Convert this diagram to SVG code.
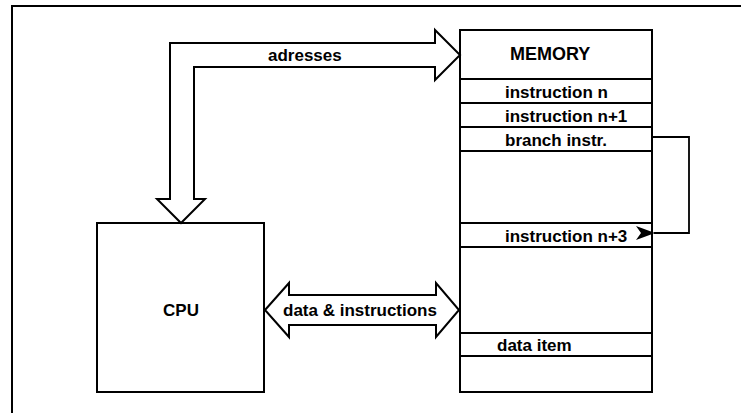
<svg xmlns="http://www.w3.org/2000/svg" width="741" height="413" viewBox="0 0 741 413">
  <style>
    .box { fill: #fff; stroke: #000; stroke-width: 2; }
    .rule { stroke: #000; stroke-width: 2; fill: none; }
    .bus { fill: #fff; stroke: #000; stroke-width: 2; stroke-linejoin: miter; }
    .wire { fill: none; stroke: #000; stroke-width: 1.8; }
    .lbl { font-family: "Liberation Sans", Arial, sans-serif; font-size: 17px; font-weight: bold; fill: #000; }
    .big { font-size: 18px; }
    .mid { text-anchor: middle; }
  </style>
  <defs>
    <marker id="barb" viewBox="0 0 20 16" refX="1" refY="8" markerWidth="20" markerHeight="16" markerUnits="userSpaceOnUse" orient="auto-start-reverse">
      <path d="M0,8 L19,1 L14,8 L19,15 Z" fill="#000"/>
    </marker>
  </defs>

  <rect width="741" height="413" fill="#fff"/>

  <!-- outer frame: top and left edges -->
  <g id="frame">
    <path class="rule" d="M12,413 V6 H741"/>
  </g>

  <!-- CPU -->
  <g id="cpu">
    <rect class="box" x="97" y="223" width="167" height="169"/>
    <text class="lbl mid" x="181" y="316">CPU</text>
  </g>

  <!-- Memory column -->
  <g id="memory">
    <rect class="box" x="460" y="30" width="192" height="362"/>
    <path class="rule" d="M460,79 H652 M460,103 H652 M460,127 H652 M460,151 H652 M460,223 H652 M460,247 H652 M460,333 H652 M460,356 H652"/>
    <text class="lbl big" x="510" y="60">MEMORY</text>
    <text class="lbl" x="505" y="97.5">instruction n</text>
    <text class="lbl" x="505" y="121.5">instruction n+1</text>
    <text class="lbl" x="505" y="145.5">branch instr.</text>
    <text class="lbl" x="505" y="241.5">instruction n+3</text>
    <text class="lbl" x="497" y="351">data item</text>
  </g>

  <!-- connectors -->
  <g id="connectors">
    <!-- address bus: CPU -> memory -->
    <g id="bus-addresses">
      <path class="bus" d="M170,43 H435 V30 L460,55 L435,80 V67 H194 V199 H205 L181,223 L157,199 H170 Z"/>
      <text class="lbl" x="268" y="61">adresses</text>
    </g>
    <!-- data bus: both directions -->
    <g id="bus-data">
      <path class="bus" d="M265,310 L289,283 V295 H436 V283 L459,310 L436,337 V325 H289 V337 Z"/>
      <text class="lbl" x="283" y="316">data &amp; instructions</text>
    </g>
    <!-- branch jump -->
    <path id="jump" class="wire" d="M652,137 H689 V233 H654" marker-end="url(#barb)"/>
  </g>
</svg>
